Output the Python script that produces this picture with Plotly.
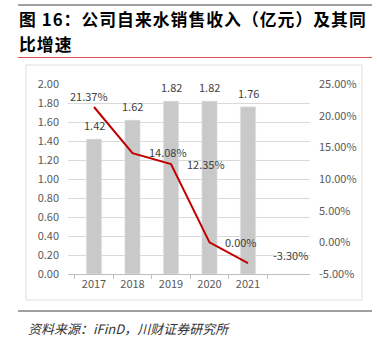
import plotly.graph_objects as go

years = ["2017", "2018", "2019", "2020", "2021"]
revenue = [1.42, 1.62, 1.82, 1.82, 1.76]
growth = [21.37, 14.08, 12.35, 0.00, -3.30]
left_ticks = [0.0, 0.2, 0.4, 0.6, 0.8, 1.0, 1.2, 1.4, 1.6, 1.8, 2.0]
right_ticks = [-5, 0, 5, 10, 15, 20, 25]

W, H = 377, 337
L, R, T, B = 68, 310, 84, 274


def px(x):
    return (x - L) / (R - L)


def py(y):
    return (B - y) / (B - T)


def spaced(s):
    return "\u200a".join(s)


FONT = "Noto Sans CJK SC"
fig = go.Figure()
fig.add_trace(go.Bar(
    x=years, y=revenue, marker_color="#c9c9c9", width=0.4,
    yaxis="y", showlegend=False,
))
fig.add_trace(go.Scatter(
    x=years, y=growth, mode="lines", yaxis="y2",
    line=dict(color="#c00000", width=2),
    showlegend=False,
))

fig.update_layout(
    width=W, height=H, margin=dict(l=L, r=W - R, t=T, b=H - B),
    paper_bgcolor="white", plot_bgcolor="white",
    font=dict(family=FONT, size=11, color="#595959"),
    xaxis=dict(type="category", showline=True, linecolor="#bfbfbf", ticks="outside",
               tickson="boundaries", ticklen=4, tickcolor="#bfbfbf",
               tickfont=dict(size=11, color="#595959"), fixedrange=True),
    yaxis=dict(range=[0, 2], tickvals=left_ticks, ticktext=[f"{v:.2f}" for v in left_ticks],
               showgrid=True, gridcolor="#d9d9d9", zeroline=False, showline=False,
               tickfont=dict(size=11, color="#595959"), ticklabelstandoff=8),
    yaxis2=dict(range=[-5, 25], overlaying="y", side="right", tickvals=right_ticks,
                ticktext=[f"{v:.2f}%" for v in right_ticks], showgrid=False, zeroline=False,
                tickfont=dict(size=11, color="#595959"), ticklabelstandoff=8),
    bargap=0.6,
)

# bar value labels
for i, v in enumerate(revenue):
    fig.add_annotation(x=i, y=v, xref="x", yref="y", text=f"{v:.2f}", showarrow=False,
                       yshift=14, font=dict(size=11, color="#404040", family=FONT))

# growth labels: (xshift, yshift, xanchor)
offsets = [(-5, 11, "center"), (14, 1, "left"), (14, 0, "left"), (13, 0, "left"), (23, 8, "left")]
for i, (g, (dx, dy, anc)) in enumerate(zip(growth, offsets)):
    fig.add_annotation(x=i, y=g, xref="x", yref="y2", text=f"{g:.2f}%", showarrow=False,
                       xshift=dx, yshift=dy, xanchor=anc,
                       font=dict(size=11, color="#404040", family=FONT))

shapes = [
    dict(type="line", xref="paper", yref="paper", x0=px(18), x1=px(372), y0=py(5), y1=py(5),
         line=dict(color="#a0a0a0", width=2)),
    dict(type="line", xref="paper", yref="paper", x0=px(18), x1=px(372), y0=py(57.5), y1=py(57.5),
         line=dict(color="#e05050", width=1)),
    dict(type="line", xref="paper", yref="paper", x0=px(18), x1=px(372), y0=py(311), y1=py(311),
         line=dict(color="#404040", width=1)),
    dict(type="rect", xref="paper", yref="paper", x0=px(26), x1=px(362), y0=py(65), y1=py(300),
         line=dict(color="#e0e0e0", width=1), layer="below"),
]
fig.update_layout(shapes=shapes)

fig.add_annotation(xref="paper", yref="paper", x=px(17), y=py(19.5), xanchor="left", yanchor="middle",
                   text="<b>" + spaced("图 16：公司自来水销售收入（亿元）及其同") + "</b>", showarrow=False,
                   font=dict(size=16.8, color="#000000", family=FONT))
fig.add_annotation(xref="paper", yref="paper", x=px(17), y=py(44), xanchor="left", yanchor="middle",
                   text="<b>" + spaced("比增速") + "</b>", showarrow=False,
                   font=dict(size=16.8, color="#000000", family=FONT))
fig.add_annotation(xref="paper", yref="paper", x=px(26), y=py(328), xanchor="left", yanchor="middle",
                   text="<i>资料来源：iFinD，川财证券研究所</i>", showarrow=False,
                   font=dict(size=13, color="#333333", family=FONT))

fig.write_html("out.html")
